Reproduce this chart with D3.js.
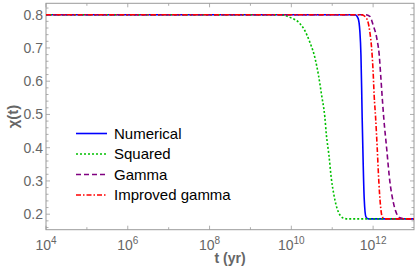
<!DOCTYPE html>
<html><head><meta charset="utf-8">
<script src="https://cdn.jsdelivr.net/npm/d3@7"></script>
<style>
html,body{margin:0;padding:0;background:#fff;}
svg{display:block;font-family:"Liberation Sans",Arial,sans-serif;}
</style></head>
<body>
<svg id="chart" width="415" height="275"></svg>
<script>
// ---- data (t in years, chi(t)) ----
const seriesNames = ["Numerical", "Squared", "Gamma", "Improved gamma"];
const numericalT = [1e4, 3.6e11, 4.3e11, 4.75e11, 5.04e11, 5.24e11, 5.4e11, 5.73e11, 6.05e11, 6.67e11, 7.6e11, 1e13];
const numericalX = [0.8, 0.8, 0.789, 0.749, 0.679, 0.58, 0.489, 0.348, 0.248, 0.192, 0.186, 0.186];
const squaredT = [1e4, 5e9, 9.2e9, 1.6e10, 2.1e10, 2.8e10, 3.8e10, 4.6e10, 5.5e10, 6.6e10, 7.2e10, 8.3e10, 9.5e10, 1.1e11, 1.4e11, 1.9e11, 2.4e11, 1e13];
const squaredX = [0.8, 0.8, 0.792, 0.774, 0.754, 0.719, 0.669, 0.619, 0.558, 0.492, 0.438, 0.378, 0.308, 0.258, 0.208, 0.188, 0.186, 0.186];
const gammaT = [1e4, 6.3e11, 8.3e11, 1.0e12, 1.23e12, 1.41e12, 1.55e12, 1.7e12, 1.82e12, 2.14e12, 2.57e12, 3.09e12, 3.72e12, 4.57e12, 6.0e12, 1e13];
const gammaX = [0.8, 0.8, 0.795, 0.769, 0.729, 0.679, 0.609, 0.538, 0.49, 0.399, 0.298, 0.238, 0.203, 0.189, 0.186, 0.186];
const improvedT = [1e4, 5.25e11, 6.9e11, 8.3e11, 9.2e11, 1.0e12, 1.06e12, 1.15e12, 1.26e12, 1.38e12, 1.51e12, 1.66e12, 1.9e12, 1e13];
const improvedX = [0.8, 0.8, 0.789, 0.749, 0.699, 0.629, 0.558, 0.491, 0.399, 0.298, 0.228, 0.193, 0.186, 0.186];
const xTickExps = [4, 6, 8, 10, 12];
const xMinorExps = [5, 7, 9, 11];
const yTicks = [0.2, 0.3, 0.4, 0.5, 0.6, 0.7, 0.8];
const xLabel = "t (yr)";
const yLabel = "χ(t)";

// ---- layout ----
const svg = d3.select("#chart");
const L = 46, R = 414, T = 3.3, B = 229.7;
const x = d3.scaleLog().domain([1e4, 1e13]).range([L, R]);
const y = d3.scaleLinear().domain([0.8 - (B - 14.7) / 332.5, 0.8 + (14.7 - T) / 332.5]).range([B, T]);

const frameColor = "#9a9a9a";
const labelColor = "#666";

// frame
svg.append("rect").attr("x", L).attr("y", T).attr("width", R - L).attr("height", B - T)
  .attr("fill", "none").attr("stroke", frameColor).attr("stroke-width", 1);

// x ticks (inside, bottom and top)
const g = svg.append("g").attr("stroke", frameColor).attr("stroke-width", 0.8);
xTickExps.forEach(e => {
  const px = x(Math.pow(10, e));
  g.append("line").attr("x1", px).attr("x2", px).attr("y1", B).attr("y2", B - 4);
  g.append("line").attr("x1", px).attr("x2", px).attr("y1", T).attr("y2", T + 4);
});
xMinorExps.forEach(e => {
  const px = x(Math.pow(10, e));
  g.append("line").attr("x1", px).attr("x2", px).attr("y1", B).attr("y2", B - 2.5);
  g.append("line").attr("x1", px).attr("x2", px).attr("y1", T).attr("y2", T + 2.5);
});
// y ticks
yTicks.forEach(v => {
  const py = y(v);
  g.append("line").attr("x1", L).attr("x2", L + 4).attr("y1", py).attr("y2", py);
  g.append("line").attr("x1", R).attr("x2", R - 4).attr("y1", py).attr("y2", py);
});
d3.range(0.16, 0.835, 0.02).forEach(v => {
  if (yTicks.some(t => Math.abs(t - v) < 1e-6)) return;
  const py = y(v);
  if (py < T || py > B) return;
  g.append("line").attr("x1", L).attr("x2", L + 2.5).attr("y1", py).attr("y2", py);
  g.append("line").attr("x1", R).attr("x2", R - 2.5).attr("y1", py).attr("y2", py);
});

// y tick labels
yTicks.forEach(v => {
  svg.append("text").attr("x", L - 3).attr("y", y(v)).attr("dy", "0.36em")
    .attr("text-anchor", "end").attr("font-size", 14).attr("fill", labelColor)
    .text(d3.format(".1f")(v));
});
// x tick labels with superscripts
xTickExps.forEach(e => {
  const t = svg.append("text").attr("x", x(Math.pow(10, e))).attr("y", 250)
    .attr("text-anchor", "middle").attr("font-size", 14).attr("fill", labelColor);
  t.append("tspan").text("10");
  t.append("tspan").attr("font-size", 10).attr("dy", -6).text(String(e));
});

// axis labels
svg.append("text").attr("x", (L + R) / 2).attr("y", 263).attr("text-anchor", "middle")
  .attr("font-size", 14).attr("font-weight", "bold").attr("fill", labelColor).text(xLabel);
svg.append("text").attr("transform", `translate(18,${(T + B) / 2}) rotate(-90)`)
  .attr("text-anchor", "middle").attr("font-size", 15).attr("font-weight", "bold")
  .attr("fill", labelColor).text(yLabel);

// series
const styles = [
  { color: "#0000ff", dash: null },
  { color: "#00c000", dash: "2,2" },
  { color: "#800080", dash: "5,3" },
  { color: "#ff0000", dash: "5,2,1.5,2" }
];
const data = [
  numericalT.map((t, i) => [t, numericalX[i]]),
  squaredT.map((t, i) => [t, squaredX[i]]),
  gammaT.map((t, i) => [t, gammaX[i]]),
  improvedT.map((t, i) => [t, improvedX[i]])
];
const line = d3.line().x(d => x(d[0])).y(d => y(d[1])).curve(d3.curveMonotoneX);
const plot = svg.append("g");
svg.append("clipPath").attr("id", "clip").append("rect")
  .attr("x", L).attr("y", T).attr("width", R - L).attr("height", B - T);
plot.attr("clip-path", "url(#clip)");
data.forEach((d, i) => {
  plot.append("path").attr("d", line(d)).attr("fill", "none")
    .attr("stroke", styles[i].color).attr("stroke-width", 1.6)
    .attr("stroke-dasharray", styles[i].dash);
});

// legend
const legY0 = 133.5, legDy = 20.5;
seriesNames.forEach((name, i) => {
  const yy = legY0 + i * legDy;
  svg.append("line").attr("x1", 76).attr("x2", 107).attr("y1", yy).attr("y2", yy)
    .attr("stroke", styles[i].color).attr("stroke-width", 1.6)
    .attr("stroke-dasharray", styles[i].dash);
  svg.append("text").attr("x", 114).attr("y", yy).attr("dy", "0.36em")
    .attr("font-size", 15).attr("fill", "#000").text(name);
});
</script>
</body></html>
